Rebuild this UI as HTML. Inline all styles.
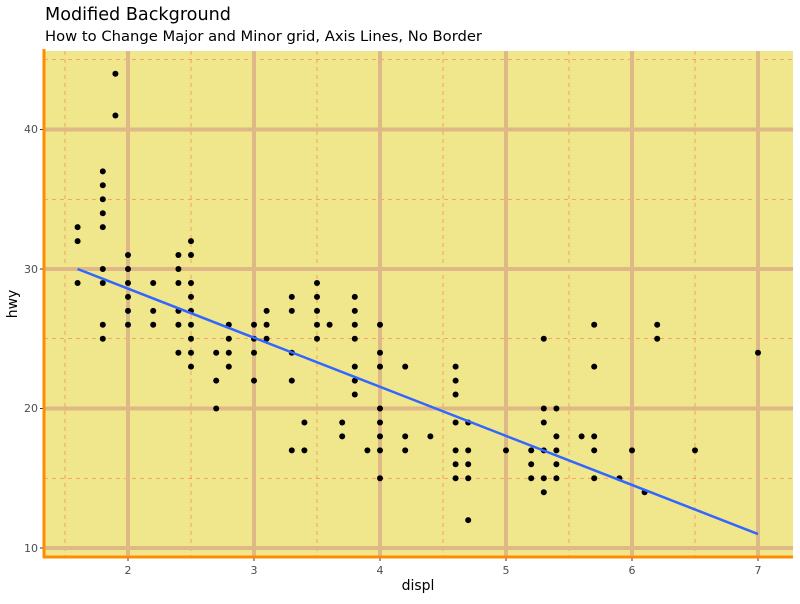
<!DOCTYPE html>
<html><head><meta charset="utf-8"><style>
body{margin:0;background:#fff;font-family:"DejaVu Sans",sans-serif}
</style></head><body>
<svg id="s" width="800" height="600" xmlns="http://www.w3.org/2000/svg" font-family="DejaVu Sans, sans-serif">
<text x="45" y="20" font-size="17.5" fill="#000" textLength="186" lengthAdjust="spacingAndGlyphs">Modified Background</text>
<text x="45" y="41" font-size="14" fill="#000" textLength="437" lengthAdjust="spacingAndGlyphs">How to Change Major and Minor grid, Axis Lines, No Border</text>
<rect x="44" y="51" width="749" height="506" fill="#f0e68c"/>
<g id="g"></g>
<line x1="44" y1="49" x2="44" y2="558" stroke="#ff8c00" stroke-width="3"/>
<line x1="43" y1="557" x2="793" y2="557" stroke="#ff8c00" stroke-width="3"/>
<g font-size="11" fill="#4d4d4d" text-anchor="end">
<text x="38" y="133">40</text><text x="38" y="273">30</text><text x="38" y="412">20</text><text x="38" y="552">10</text>
</g>
<g font-size="11" fill="#4d4d4d" text-anchor="middle">
<text x="128" y="574">2</text><text x="254" y="574">3</text><text x="380" y="574">4</text><text x="506" y="574">5</text><text x="632" y="574">6</text><text x="758" y="574">7</text>
</g>
<text x="418" y="590" font-size="14" text-anchor="middle">displ</text>
<text transform="translate(17,304) rotate(-90)" font-size="14" text-anchor="middle">hwy</text>
</svg>
<script>
var g=document.getElementById('g'),h="";
function X(d){return 128+(d-2)*126}function Y(v){return 548-(v-10)*13.95}
[1.5,2.5,3.5,4.5,5.5,6.5].forEach(function(d){h+='<line x1="'+X(d)+'" y1="51" x2="'+X(d)+'" y2="557" stroke="#f4a460" stroke-width="1" stroke-dasharray="4,4"/>'});
[15,25,35,45].forEach(function(v){h+='<line x1="44" y1="'+Y(v)+'" x2="793" y2="'+Y(v)+'" stroke="#ff6347" stroke-width="0.6" stroke-dasharray="4,4"/>'});
[2,3,4,5,6,7].forEach(function(d){h+='<line x1="'+X(d)+'" y1="51" x2="'+X(d)+'" y2="557" stroke="#deb887" stroke-width="4"/><line x1="'+X(d)+'" y1="557" x2="'+X(d)+'" y2="561" stroke="#333"/>'});
[10,20,30,40].forEach(function(v){h+='<line x1="44" y1="'+Y(v)+'" x2="793" y2="'+Y(v)+'" stroke="#deb887" stroke-width="4"/><line x1="40" y1="'+Y(v)+'" x2="44" y2="'+Y(v)+'" stroke="#333"/>'});
var P={1.6:[33,32,29],1.8:[37,36,35,34,33,30,29,26,25],1.9:[44,41],2.0:[31,30,29,28,27,26],2.2:[29,27,26],2.4:[31,30,29,27,26,24],2.5:[32,31,29,28,27,26,25,24,23],2.7:[24,22,20],2.8:[26,25,24,23],3.0:[26,25,24,22],3.1:[27,26,25],3.3:[28,27,24,22,17],3.4:[19,17],3.5:[29,28,27,26,25],3.6:[26],3.7:[19,18],3.8:[28,27,26,25,23,22,21],3.9:[17],4.0:[26,24,23,20,19,18,17,15],4.2:[23,18,17],4.4:[18],4.6:[23,22,21,19,17,16,15],4.7:[19,17,16,15,12],5.0:[17],5.2:[17,16,15],5.3:[25,20,19,17,15,14],5.4:[20,18,17,16,15],5.6:[18],5.7:[26,23,18,17,15],5.9:[15],6.0:[17],6.1:[14],6.2:[26,25],6.5:[17],7.0:[24]};
for(var k in P)P[k].forEach(function(v){h+='<circle cx="'+X(+k)+'" cy="'+Y(v)+'" r="3" fill="#000"/>'});
h+='<line x1="'+X(1.6)+'" y1="'+Y(30.0)+'" x2="'+X(7)+'" y2="'+Y(11.0)+'" stroke="#3366ff" stroke-width="2.5"/>';
g.innerHTML=h;
</script>
</body></html>
